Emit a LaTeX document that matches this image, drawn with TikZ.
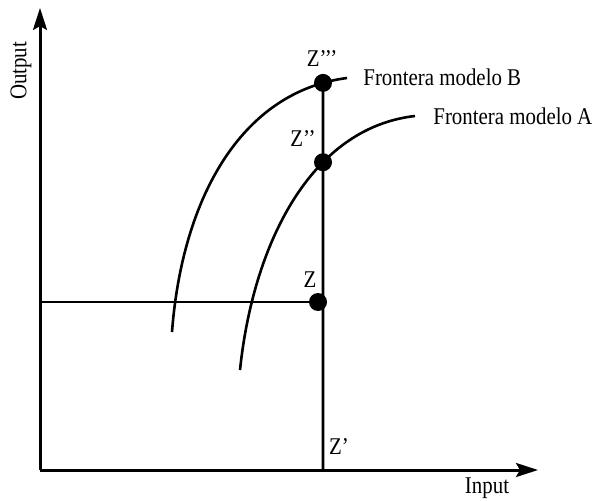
\documentclass[tikz,border=0pt]{standalone}
\usepackage{fontspec}
\setmainfont{Liberation Serif}[FakeStretch=0.87]
\usetikzlibrary{arrows.meta,intersections}
\tikzset{
  axisarr/.style={-{Stealth[length=11pt,width=7pt,inset=2pt]}, line width=1.5pt},
  frontier/.style={line width=1.3pt},
  guide/.style={line width=1.4pt},
  dotnode/.style={circle, fill=black, inner sep=0pt, minimum size=9pt},
  lbl/.style={font=\fontsize{12}{14}\selectfont, inner sep=1pt},
}
\begin{document}
\begin{tikzpicture}[x=0.5pt,y=-0.5pt]
  \useasboundingbox (0,0) rectangle (597,501);
  % axes
  \coordinate (O) at (40,470);
  \coordinate (ytip) at (40,8);
  \coordinate (xtip) at (538,470);
  \draw[axisarr] (O) -- (ytip);
  \draw[axisarr] (O) -- (xtip);
  \node[lbl, rotate=90] (output) at (21,71) {Output};
  \node[lbl] (input) at (487,488) {Input};
  % frontiers
  \draw[frontier, name path=frontB] (172,332) .. controls (182,200) and (240,92) .. (347,78);
  \draw[frontier, name path=frontA] (240,370) .. controls (253,245) and (310,128) .. (415,116);
  \path[name path=vline] (323,470) -- (323,40);
  \path[name intersections={of=vline and frontB, by=ipB}];
  \path[name intersections={of=vline and frontA, by=ipA}];
  % points
  \coordinate (zp) at (323,470);
  \coordinate (hstart) at (40,302);
  \node[dotnode] (z) at (318,302) {};
  \node[dotnode] (zpp) at (ipA) {};
  \node[dotnode] (zppp) at (ipB) {};
  \draw[guide] (zp) -- (zppp.center);
  \draw[guide] (hstart) -- (z.center);
  % labels
  \node[lbl] (lz) at (310,280) {Z};
  \node[lbl] (lzp) at (339,447) {Z’};
  \node[lbl] (lzpp) at (303,139) {Z’’};
  \node[lbl] (lzppp) at (322,59) {Z’’’};
  \node[lbl, anchor=west] (lB) at (361,77) {Frontera modelo B};
  \node[lbl, anchor=west] (lA) at (431,116) {Frontera modelo A};
\end{tikzpicture}
\end{document}
